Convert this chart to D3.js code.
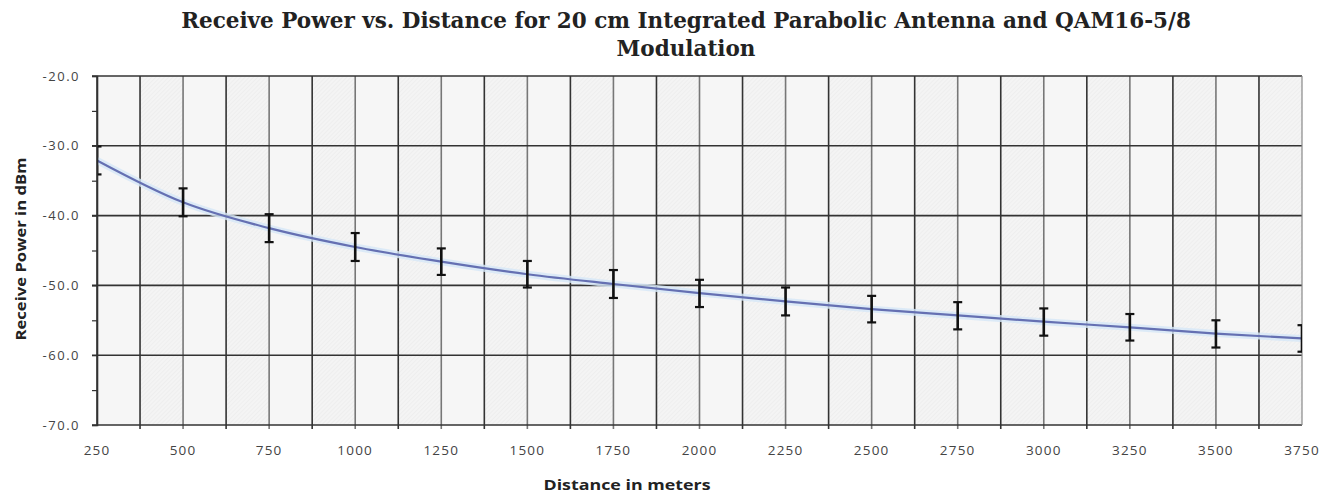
<!DOCTYPE html>
<html>
<head>
<meta charset="utf-8">
<script src="https://cdn.jsdelivr.net/npm/d3@7"></script>
<style>
  body { margin: 0; background: #fff; }
  svg { display: block; }
</style>
</head>
<body>
<script>
// chart data
var distances = [250, 500, 750, 1000, 1250, 1500, 1750, 2000, 2250, 2500, 2750, 3000, 3250, 3500, 3750];
var power = [-32.1, -38.1, -41.8, -44.5, -46.6, -48.4, -49.8, -51.1, -52.3, -53.4, -54.3, -55.2, -56.0, -56.9, -57.6];
var errorUp = [2.0, 2.0, 2.0, 2.0, 1.9, 1.9, 2.0, 1.9, 2.0, 1.9, 1.9, 1.9, 1.9, 1.9, 1.9];
var errorDown = [2.0, 2.0, 2.0, 2.0, 1.9, 1.9, 2.0, 2.0, 2.0, 1.9, 2.0, 2.0, 1.9, 2.0, 1.9];
var xTicks = [250, 500, 750, 1000, 1250, 1500, 1750, 2000, 2250, 2500, 2750, 3000, 3250, 3500, 3750];
var yTicks = [-20, -30, -40, -50, -60, -70];
var titleLines = ['Receive Power vs. Distance for 20 cm Integrated Parabolic Antenna and QAM16-5/8', 'Modulation'];

var width = 1335, height = 495;
var margin = {top: 76, right: 33, bottom: 70, left: 97};
var plotW = width - margin.left - margin.right;
var plotH = height - margin.top - margin.bottom;

var svg = d3.select('body').append('svg').attr('width', width).attr('height', height);

var x = d3.scaleLinear().domain([250, 3750]).range([0, plotW]);
var y = d3.scaleLinear().domain([-70, -20]).range([plotH, 0]);

// hatch pattern for the plot background
var defs = svg.append('defs');
var pat = defs.append('pattern').attr('id', 'hatch').attr('patternUnits', 'userSpaceOnUse')
  .attr('width', 3).attr('height', 3).attr('patternTransform', 'rotate(45)');
pat.append('rect').attr('width', 3).attr('height', 3).attr('fill', '#f4f4f4');
pat.append('line').attr('x1', 0).attr('y1', 0).attr('x2', 0).attr('y2', 3)
  .attr('stroke', '#e8e8e8').attr('stroke-width', 1);
defs.append('clipPath').attr('id', 'clip').append('rect').attr('width', plotW).attr('height', plotH);

var g = svg.append('g').attr('transform', 'translate(' + margin.left + ',' + margin.top + ')');

// alternating background columns (every 125 m)
var cols = d3.range(250, 3750, 125);
g.selectAll('rect.col').data(cols).enter().append('rect')
  .attr('class', 'col')
  .attr('x', function(d) { return x(d); })
  .attr('y', 0)
  .attr('width', function(d) { return x(d + 125) - x(d); })
  .attr('height', plotH)
  .attr('fill', function(d, i) { return i % 2 === 0 ? '#f6f6f6' : 'url(#hatch)'; });

// vertical grid lines: light at ticks, dark in between
var midLines = d3.range(375, 3750, 250);
g.selectAll('line.vt').data(xTicks.slice(1, -1)).enter().append('line')
  .attr('x1', function(d) { return x(d); }).attr('x2', function(d) { return x(d); })
  .attr('y1', 0).attr('y2', plotH + 4)
  .attr('stroke', '#777').attr('stroke-width', 1.6);
g.selectAll('line.vm').data(midLines).enter().append('line')
  .attr('x1', function(d) { return x(d); }).attr('x2', function(d) { return x(d); })
  .attr('y1', 0).attr('y2', plotH + 4)
  .attr('stroke', '#333').attr('stroke-width', 1.6);

// horizontal grid lines
g.selectAll('line.h').data(yTicks).enter().append('line')
  .attr('x1', -5).attr('x2', plotW)
  .attr('y1', function(d) { return y(d); }).attr('y2', function(d) { return y(d); })
  .attr('stroke', '#333').attr('stroke-width', 1.6);

// right border
g.append('line').attr('x1', plotW).attr('x2', plotW).attr('y1', 0).attr('y2', plotH)
  .attr('stroke', '#888').attr('stroke-width', 1.2);

// y axis with minor ticks
var yAxis = g.append('g').call(d3.axisLeft(y).tickValues(d3.range(-70, -19, 5)).tickSize(5).tickFormat(''));
yAxis.select('.domain').attr('stroke', '#333').attr('stroke-width', 1.6);
yAxis.selectAll('line').attr('stroke', '#333').attr('stroke-width', 1.2);

g.selectAll('text.yt').data(yTicks).enter().append('text')
  .attr('x', -17).attr('y', function(d) { return y(d); }).attr('dy', '0.35em')
  .attr('text-anchor', 'end')
  .attr('font-family', 'Open Sans, sans-serif').attr('font-size', 13).attr('fill', '#444')
  .attr('letter-spacing', 1.5)
  .text(function(d) { return d.toFixed(1); });

// x axis labels
g.selectAll('text.xt').data(xTicks).enter().append('text')
  .attr('x', function(d) { return x(d); }).attr('y', plotH + 30)
  .attr('text-anchor', 'middle')
  .attr('font-family', 'Open Sans, sans-serif').attr('font-size', 13.5).attr('fill', '#444')
  .attr('letter-spacing', 1.2)
  .text(function(d) { return d; });

// curve
var line = d3.line()
  .x(function(d, i) { return x(distances[i]); })
  .y(function(d) { return y(d); })
  .curve(d3.curveMonotoneX);

var plot = g.append('g').attr('clip-path', 'url(#clip)');
plot.append('path').datum(power).attr('d', line)
  .attr('fill', 'none').attr('stroke', '#d6e7f7').attr('stroke-width', 7).attr('opacity', 0.8);
plot.append('path').datum(power).attr('d', line)
  .attr('fill', 'none').attr('stroke', '#6570b2').attr('stroke-width', 2.2);

// error bars
var bars = plot.selectAll('g.err').data(power).enter().append('g')
  .attr('transform', function(d, i) { return 'translate(' + x(distances[i]) + ',0)'; });
bars.append('line')
  .attr('y1', function(d, i) { return y(d + errorUp[i]); })
  .attr('y2', function(d, i) { return y(d - errorDown[i]); })
  .attr('stroke', '#111').attr('stroke-width', 2.6);
bars.append('line')
  .attr('x1', -4.5).attr('x2', 4.5)
  .attr('y1', function(d, i) { return y(d + errorUp[i]); })
  .attr('y2', function(d, i) { return y(d + errorUp[i]); })
  .attr('stroke', '#111').attr('stroke-width', 2.2);
bars.append('line')
  .attr('x1', -4.5).attr('x2', 4.5)
  .attr('y1', function(d, i) { return y(d - errorDown[i]); })
  .attr('y2', function(d, i) { return y(d - errorDown[i]); })
  .attr('stroke', '#111').attr('stroke-width', 2.2);

// left axis line drawn on top
g.append('line').attr('x1', 0).attr('x2', 0).attr('y1', 0).attr('y2', plotH)
  .attr('stroke', '#333').attr('stroke-width', 1.6);

// title
svg.selectAll('text.title').data(titleLines).enter().append('text')
  .attr('x', 686).attr('y', function(d, i) { return 28 + i * 28; })
  .attr('text-anchor', 'middle')
  .attr('font-family', 'DejaVu Serif, serif').attr('font-weight', 'bold').attr('font-size', 21.5)
  .attr('fill', '#222')
  .text(function(d) { return d; });

// axis titles
svg.append('text')
  .attr('x', 627).attr('y', 490)
  .attr('text-anchor', 'middle')
  .attr('font-family', 'Open Sans, sans-serif').attr('font-weight', 'bold').attr('font-size', 14)
  .attr('fill', '#222')
  .attr('textLength', 167).attr('lengthAdjust', 'spacingAndGlyphs')
  .text('Distance in meters');

svg.append('text')
  .attr('transform', 'translate(26,249) rotate(-90)')
  .attr('text-anchor', 'middle')
  .attr('font-family', 'Open Sans, sans-serif').attr('font-weight', 'bold').attr('font-size', 14)
  .attr('fill', '#222')
  .attr('textLength', 183).attr('lengthAdjust', 'spacingAndGlyphs')
  .text('Receive Power in dBm');
</script>
</body>
</html>
